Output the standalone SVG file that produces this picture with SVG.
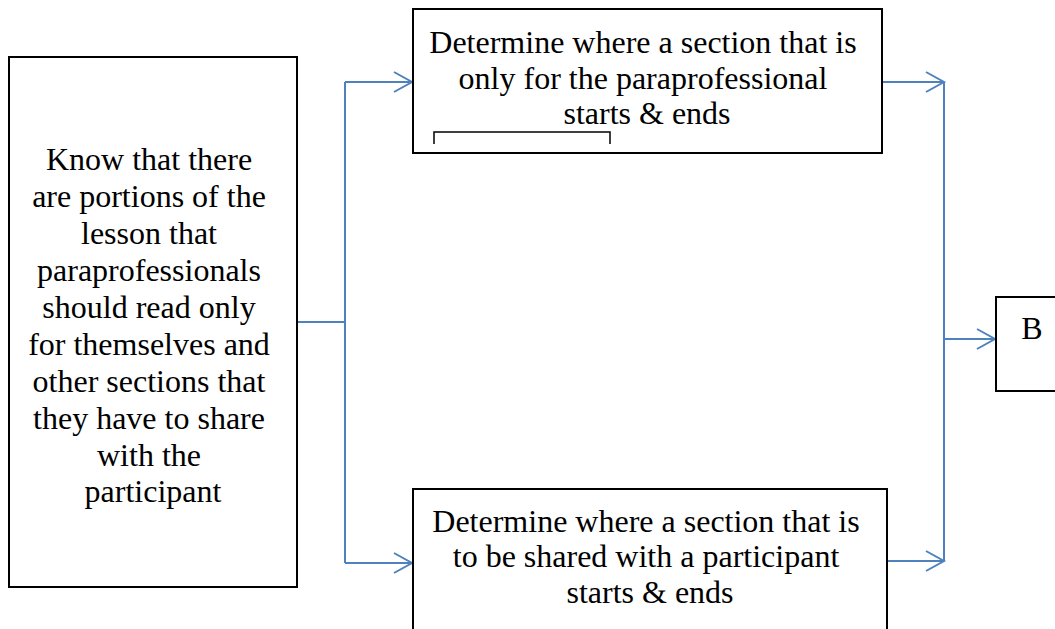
<svg xmlns="http://www.w3.org/2000/svg" width="1055" height="629" viewBox="0 0 1055 629">
  <style>
    .box { fill: #ffffff; stroke: #000000; stroke-width: 2; }
    .lbl { font-family: "Liberation Serif", "Times New Roman", serif; font-size: 32px; fill: #000000; text-anchor: middle; }
    .wire { fill: none; stroke: #4f81bd; stroke-width: 2; }
    .bracket { fill: none; stroke: #000000; stroke-width: 1.5; }
  </style>
  <defs>
    <marker id="chev" markerUnits="userSpaceOnUse" markerWidth="24" markerHeight="24" refX="19" refY="11" orient="auto">
      <path d="M1,1 L19,11 L1,21" fill="none" stroke="#4f81bd" stroke-width="2"/>
    </marker>
  </defs>
  <rect width="1055" height="629" fill="#ffffff"/>

  <g id="connectors">
    <!-- fan-out from the left box -->
    <path class="wire" d="M297,322 H345"/>
    <path class="wire" d="M345,82 V563"/>
    <path class="wire" d="M345,82 H412" marker-end="url(#chev)"/>
    <path class="wire" d="M345,563 H412" marker-end="url(#chev)"/>
    <!-- merge into B -->
    <path class="wire" d="M882,82 H944" marker-end="url(#chev)"/>
    <path class="wire" d="M887,561 H944" marker-end="url(#chev)"/>
    <path class="wire" d="M944,82 V561"/>
    <path class="wire" d="M944,339 H995" marker-end="url(#chev)"/>
  </g>

  <g id="node-know">
    <rect class="box" x="9" y="57" width="288" height="530"/>
    <text class="lbl">
      <tspan x="153" y="170">Know that there</tspan>
      <tspan x="153" y="207">are portions of the</tspan>
      <tspan x="153" y="244">lesson that</tspan>
      <tspan x="153" y="281">paraprofessionals</tspan>
      <tspan x="153" y="318">should read only</tspan>
      <tspan x="153" y="355">for themselves and</tspan>
      <tspan x="153" y="392">other sections that</tspan>
      <tspan x="153" y="429">they have to share</tspan>
      <tspan x="153" y="466">with the</tspan>
      <tspan x="153" y="502">participant</tspan>
    </text>
  </g>

  <g id="node-para-only">
    <rect class="box" x="413" y="9" width="469" height="144"/>
    <text class="lbl">
      <tspan x="647" y="53">Determine where a section that is</tspan>
      <tspan x="647" y="89">only for the paraprofessional</tspan>
      <tspan x="647" y="124">starts &amp; ends</tspan>
    </text>
    <path class="bracket" d="M434,144 V132 H610 V144"/>
  </g>

  <g id="node-shared">
    <rect class="box" x="413" y="489" width="474" height="160"/>
    <text class="lbl">
      <tspan x="650" y="532">Determine where a section that is</tspan>
      <tspan x="650" y="567">to be shared with a participant</tspan>
      <tspan x="650" y="603">starts &amp; ends</tspan>
    </text>
  </g>

  <g id="node-b">
    <rect class="box" x="996" y="297" width="80" height="94"/>
    <text class="lbl" x="1032" y="339">B</text>
  </g>
</svg>
